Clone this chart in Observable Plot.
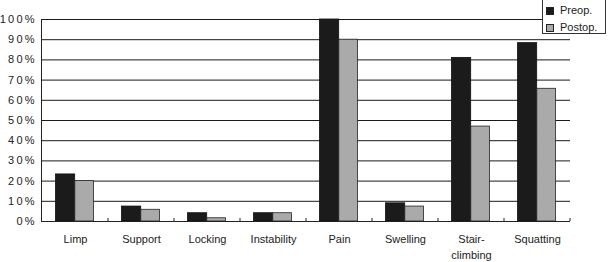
<!DOCTYPE html>
<html>
<head>
<meta charset="utf-8">
<script src="https://cdn.jsdelivr.net/npm/d3@7"></script>
<script src="https://cdn.jsdelivr.net/npm/@observablehq/plot@0.6"></script>
<style>
  html, body { margin: 0; padding: 0; background: #fff; }
  #chart { position: relative; width: 613px; height: 262px; overflow: hidden;
           font-family: "Liberation Sans", Arial, sans-serif; color: #222; }
  #legend { position: absolute; left: 542px; top: -4px; width: 64px; height: 38px;
            border: 1px solid #333; background: #fff; box-sizing: border-box;
            font-size: 11px; line-height: 17px; padding: 5px 0 0 3px; }
  #legend .item { display: flex; align-items: center; white-space: nowrap; height: 17px; }
  #legend .sw { width: 6px; height: 6px; border: 1px solid #222; margin-right: 6px; }
</style>
</head>
<body>
<div id="chart"><div id="legend"></div></div>
<script>
// Symptom categories and the share of patients reporting each, before and after surgery (%)
const categories = ["Limp", "Support", "Locking", "Instability", "Pain", "Swelling", "Stair-\nclimbing", "Squatting"];
const preop  = [23.3, 7.4, 4.1, 4.1, 100, 9.0, 81.0, 88.3];
const postop = [20.0, 5.8, 1.6, 4.1, 90.0, 7.4, 47.0, 65.7];
const seriesNames = ["Preop.", "Postop."];
const seriesColors = ["#1b1b1b", "#aaaaaa"];
const yTicks = [0, 10, 20, 30, 40, 50, 60, 70, 80, 90, 100];

const rows = categories.map((c, i) => ({category: c, preop: preop[i], postop: postop[i]}));

// Small upward ticks at the right edge of every category band
function bandTicks(index, scales) {
  const g = d3.create("svg:g").attr("stroke", "#222");
  const x = scales.x, y = scales.y;
  const y0 = y(0);
  for (const c of categories) {
    const xr = x(c) + x.bandwidth();
    g.append("line").attr("x1", xr).attr("x2", xr).attr("y1", y0).attr("y2", y0 - 3);
  }
  return g.node();
}

const plot = Plot.plot({
  width: 613,
  height: 262,
  marginTop: 19,
  marginBottom: 41,
  marginLeft: 41,
  marginRight: 43,
  style: {fontFamily: "'Liberation Sans', Arial, sans-serif", fontSize: "11px", color: "#222", background: "#fff"},
  x: {domain: categories, padding: 0, axis: null},
  y: {domain: [0, 100], ticks: yTicks, tickSize: 0, tickPadding: 7, line: true,
      tickFormat: d => String(d).split("").join("\u2009") + "\u2009%", label: null},
  marks: [
    Plot.ruleY(yTicks, {stroke: "#1a1a1a", strokeWidth: 1}),
    Plot.barY(rows, {x: "category", y: "preop", fill: seriesColors[0], stroke: "#111", strokeWidth: 0.8,
                     insetLeft: 13.5, insetRight: 33.3}),
    Plot.barY(rows, {x: "category", y: "postop", fill: seriesColors[1], stroke: "#222", strokeWidth: 0.8,
                     insetLeft: 32.8, insetRight: 14.5}),
    Plot.ruleY([0], {stroke: "#222", strokeWidth: 1.2}),
    bandTicks,
    Plot.text(categories, {x: d => d, y: () => 0, text: d => d, lineAnchor: "top", dy: 10,
                           lineHeight: 1.45, fill: "#222", fontSize: 11})
  ]
});

document.getElementById("chart").prepend(plot);

// Legend box at the upper right
const legend = d3.select("#legend");
seriesNames.forEach((name, i) => {
  const item = legend.append("div").attr("class", "item");
  item.append("div").attr("class", "sw").style("background", seriesColors[i]);
  item.append("span").text(name);
});
</script>
</body>
</html>
